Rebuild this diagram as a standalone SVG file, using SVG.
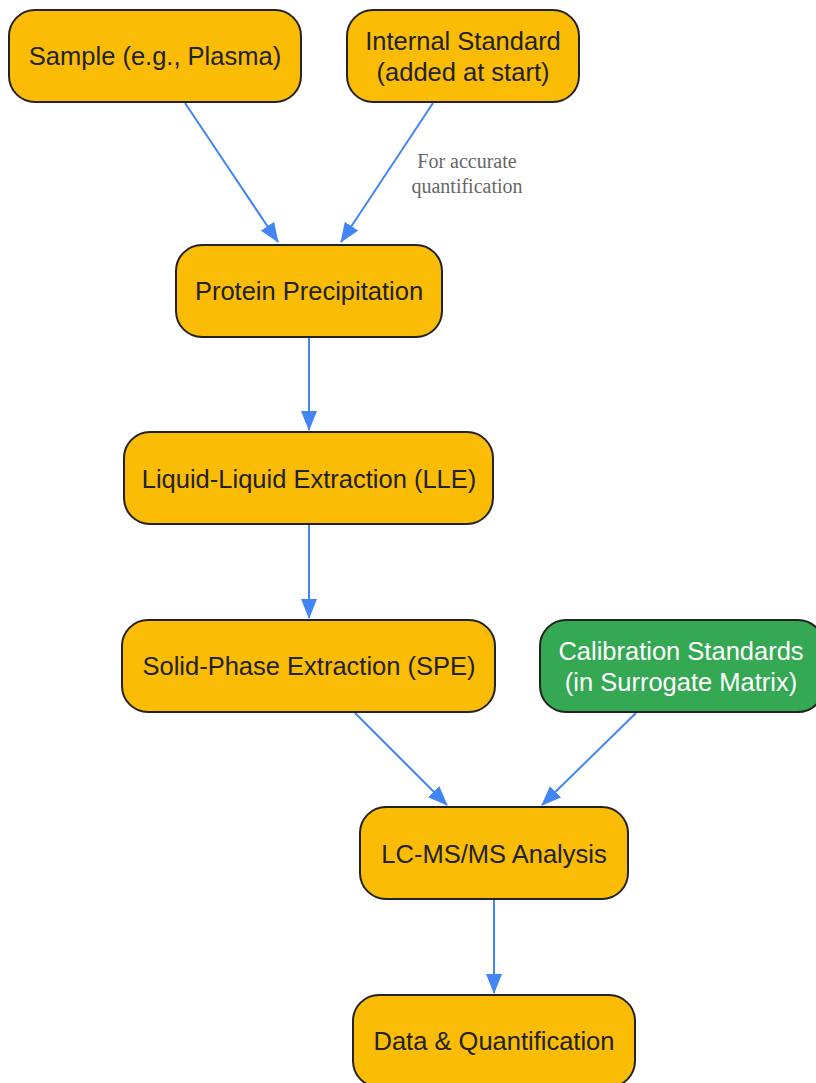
<svg xmlns="http://www.w3.org/2000/svg" width="816" height="1083" viewBox="0 0 816 1083">
<style>
.n{fill:#FBBC05;stroke:#222;stroke-width:2}
.g{fill:#34A853;stroke:#222;stroke-width:2}
.t{font-family:"Liberation Sans",Arial,sans-serif;font-size:25.5px;fill:#222;text-anchor:middle}
.w{fill:#fff}
.e{stroke:#4285F4;stroke-width:2;fill:none;marker-end:url(#a)}
.l{font-family:"Liberation Serif","Times New Roman",serif;font-size:20px;fill:#666;text-anchor:middle}
</style>
<defs>
<marker id="a" viewBox="0 0 20 16" refX="19" refY="8" markerWidth="20" markerHeight="16" markerUnits="userSpaceOnUse" orient="auto">
<path d="M0,0 L20,8 L0,16 z" fill="#4285F4"/>
</marker>
</defs>
<rect width="816" height="1083" fill="#fff"/>
<g id="edges">
<path class="e" d="M185,103 L278,242"/>
<path class="e" d="M433,103 L341,242"/>
<path class="e" d="M309,338 L309,430"/>
<path class="e" d="M309,525 L309,618"/>
<path class="e" d="M355,713 L447,805"/>
<path class="e" d="M636,713 L542,805"/>
<path class="e" d="M494,900 L494,993"/>
<text class="l" x="467" y="168">For accurate</text>
<text class="l" x="467" y="193">quantification</text>
</g>
<g id="sample"><rect class="n" x="9" y="10" width="292" height="92" rx="26"/><text class="t" x="155" y="65">Sample (e.g., Plasma)</text></g>
<g id="internal-standard"><rect class="n" x="347" y="10" width="232" height="92" rx="26"/><text class="t" x="463" y="50">Internal Standard</text><text class="t" x="463" y="81">(added at start)</text></g>
<g id="protein-precipitation"><rect class="n" x="176" y="245" width="266" height="92" rx="26"/><text class="t" x="309" y="300">Protein Precipitation</text></g>
<g id="lle"><rect class="n" x="124" y="432" width="369" height="92" rx="26"/><text class="t" x="309" y="488">Liquid-Liquid Extraction (LLE)</text></g>
<g id="spe"><rect class="n" x="122" y="620" width="373" height="92" rx="26"/><text class="t" x="309" y="675">Solid-Phase Extraction (SPE)</text></g>
<g id="calibration"><rect class="g" x="540" y="620" width="284" height="92" rx="26"/><text class="t w" x="681" y="660">Calibration Standards</text><text class="t w" x="681" y="691">(in Surrogate Matrix)</text></g>
<g id="lcms"><rect class="n" x="360" y="807" width="268" height="92" rx="26"/><text class="t" x="494" y="863">LC-MS/MS Analysis</text></g>
<g id="data"><rect class="n" x="353" y="995" width="282" height="92" rx="26"/><text class="t" x="494" y="1050">Data &amp; Quantification</text></g>
</svg>
